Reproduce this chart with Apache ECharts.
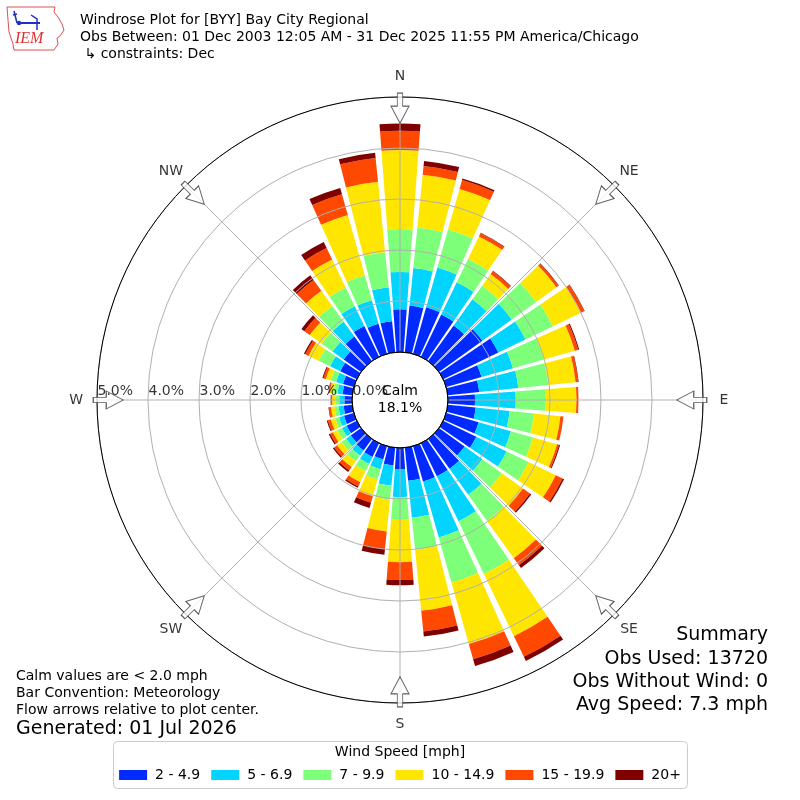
<!DOCTYPE html>
<html>
<head>
<meta charset="utf-8">
<script src="https://cdn.jsdelivr.net/npm/echarts@6.0.0/dist/echarts.min.js"></script>
<style>
html,body{margin:0;padding:0;background:#fff;}
#c{width:800px;height:800px;}
</style>
</head>
<body>
<div id="c"></div>
<script>
// ---- data ----
const directions = ['0','10','20','30','40','50','60','70','80','90','100','110','120','130','140','150','160','170',
                    '180','190','200','210','220','230','240','250','260','270','280','290','300','310','320','330','340','350'];
const speedBins = ['2 - 4.9','5 - 6.9','7 - 9.9','10 - 14.9','15 - 19.9','20+'];
// percent of observations per direction and speed bin
const s2_4_9   = [0.84,0.92,0.95,0.92,0.86,1.05,1.20,0.72,0.62,0.53,0.55,0.66,0.72,0.62,0.72,0.72,0.72,0.65,0.42,0.35,0.27,0.30,0.28,0.25,0.22,0.20,0.17,0.15,0.19,0.22,0.36,0.42,0.59,0.67,0.61,0.61];
const s5_6_9   = [0.73,0.74,0.81,0.70,0.63,0.71,0.59,0.64,0.77,0.80,0.67,0.66,0.66,0.43,0.63,0.98,1.14,0.73,0.54,0.40,0.20,0.15,0.12,0.11,0.10,0.10,0.10,0.10,0.10,0.14,0.22,0.27,0.36,0.43,0.48,0.67];
const s7_9_9   = [0.84,0.80,0.77,0.51,0.33,0.59,0.60,0.63,0.59,0.59,0.48,0.45,0.48,0.47,0.63,1.15,0.92,0.63,0.45,0.27,0.21,0.16,0.14,0.11,0.10,0.08,0.08,0.08,0.08,0.11,0.25,0.26,0.38,0.41,0.51,0.69];
const s10_14_9 = [1.55,1.04,0.83,0.49,0.28,0.49,0.61,0.63,0.54,0.60,0.52,0.49,0.59,0.51,0.90,1.35,1.25,1.20,0.83,0.63,0.34,0.24,0.14,0.11,0.10,0.09,0.07,0.06,0.07,0.10,0.22,0.29,0.37,0.61,1.23,1.39];
const s15_19_9 = [0.38,0.17,0.18,0.07,0.07,0.05,0.07,0.07,0.05,0.04,0.06,0.04,0.15,0.17,0.17,0.45,0.31,0.41,0.35,0.34,0.13,0.09,0.08,0.07,0.06,0.06,0.04,0.02,0.02,0.05,0.07,0.13,0.26,0.25,0.42,0.47];
const s20plus  = [0.14,0.10,0.03,0.01,0.01,0.01,0.01,0.02,0.01,0.00,0.00,0.02,0.03,0.03,0.07,0.09,0.14,0.10,0.10,0.12,0.11,0.03,0.04,0.03,0.03,0.02,0.01,0.01,0.01,0.02,0.03,0.07,0.11,0.13,0.13,0.10];
const ringTicks = [0,1,2,3,4,5];
const compassAngles = [0,45,90,135,180,225,270,315];
const compassNames = ['N','NE','E','SE','S','SW','W','NW'];
const calmPct = 18.1;
const summaryLines = ['Summary','Obs Used: 13720','Obs Without Wind: 0','Avg Speed: 7.3 mph'];
const noteLines = ['Calm values are < 2.0 mph','Bar Convention: Meteorology','Flow arrows relative to plot center.'];

// ---- styles ----
const binData = [s2_4_9, s5_6_9, s7_9_9, s10_14_9, s15_19_9, s20plus];
const binColors = ['#002aff','#00d4ff','#7dff7a','#ffe600','#ff4800','#800000'];
const FONT = '"DejaVu Sans", sans-serif';
const SMALL = 14;
const BIG = 19;
const ARROW_R = 4.78;   // radial position of flow arrows (axis units)
const LABEL_R = 5.41;   // radial position of compass labels
const center = ['50%','50%'];

const chart = echarts.init(document.getElementById('c'), null, {renderer:'canvas', width:800, height:800});

function txt(x, y, text, size, align, extra) {
  return Object.assign({
    type:'text', x:x, y:y, silent:true,
    style:{text:text, font: size + 'px ' + FONT, fill:'#000',
           textAlign:align||'left', align:align||'left',
           textVerticalAlign:'middle', verticalAlign:'middle'}
  }, extra||{});
}

const graphics = [
  // IEM logo
  {type:'polygon', silent:true, shape:{points:[[7,7],[55,7],[54,12],[58,17],[62,24],[64,30],[60,36],[57,38],[58,44],[54,50],[14,50],[13,44],[9,32],[8,20]]},
   style:{fill:'none', stroke:'#e05050', lineWidth:1}},
  {type:'polyline', silent:true, shape:{points:[[18,23],[40,23]]}, style:{stroke:'#2030c0', lineWidth:2}},
  {type:'polyline', silent:true, shape:{points:[[14,11],[17,23]]}, style:{stroke:'#2030c0', lineWidth:1.5}},
  {type:'polyline', silent:true, shape:{points:[[13,15],[17,14]]}, style:{stroke:'#2030c0', lineWidth:1.5}},
  {type:'polyline', silent:true, shape:{points:[[31,15],[37,19],[37,30]]}, style:{stroke:'#2030c0', lineWidth:1.5}},
  {type:'circle', silent:true, shape:{cx:19, cy:23, r:2.2}, style:{fill:'#2030c0'}},
  {type:'text', x:15, y:39, silent:true, style:{text:'IEM', font:'italic 16px "Liberation Serif", serif', fill:'#e03030', textAlign:'left', align:'left', textVerticalAlign:'middle', verticalAlign:'middle'}},
  // titles
  txt(80, 20, 'Windrose Plot for [BYY] Bay City Regional', SMALL),
  txt(80, 37, 'Obs Between: 01 Dec 2003 12:05 AM - 31 Dec 2025 11:55 PM America/Chicago', SMALL),
  txt(80, 54, ' \u21b3 constraints: Dec', SMALL),
  // calm
  txt(400, 391, 'Calm', SMALL, 'center'),
  txt(400, 408, calmPct.toFixed(1) + '%', SMALL, 'center'),
  // notes
  txt(16, 676, noteLines[0], SMALL),
  txt(16, 693, noteLines[1], SMALL),
  txt(16, 710, noteLines[2], SMALL),
  txt(16, 729, 'Generated: 01 Jul 2026', BIG),
  // summary
  txt(768, 635, summaryLines[0], BIG, 'right'),
  txt(768, 659, summaryLines[1], BIG, 'right'),
  txt(768, 682, summaryLines[2], BIG, 'right'),
  txt(768, 705, summaryLines[3], BIG, 'right'),
  // legend frame
  {type:'rect', silent:true, z:0, shape:{x:113.5, y:741.5, width:574, height:47, r:4},
   style:{fill:'#fff', stroke:'#cccccc', lineWidth:1}},
  txt(400, 752, 'Wind Speed [mph]', SMALL, 'center', {z:1})
];

const barSeries = speedBins.map((name, i) => ({
  type:'bar', name:name, coordinateSystem:'polar', polarIndex:0, stack:'wind',
  barCategoryGap:'15%', data:binData[i], silent:true,
  itemStyle:{color:binColors[i]}
}));

const option = {
  animation:false,
  backgroundColor:'#fff',
  polar:[
    {center:center, radius:[48,303]},
    {center:center, radius:[48,303]},
    {center:center, radius:[0,48]}
  ],
  angleAxis:[
    {polarIndex:0, type:'category', data:directions, startAngle:95, clockwise:true, show:false},
    {polarIndex:1, type:'value', min:0, max:360, interval:45, startAngle:90, clockwise:true, z:4,
     axisLine:{show:true, lineStyle:{color:'#000', width:1}}, axisTick:{show:false}, axisLabel:{show:false},
     splitLine:{show:true, lineStyle:{color:'#b0b0b0', width:1}}},
    {polarIndex:2, type:'value', min:0, max:360, startAngle:90, clockwise:true, z:4,
     axisLine:{show:true, lineStyle:{color:'#000', width:1}}, axisTick:{show:false}, axisLabel:{show:false},
     splitLine:{show:false}}
  ],
  radiusAxis:[
    {polarIndex:0, type:'value', min:0, max:5, show:false},
    {polarIndex:1, type:'value', min:0, max:5, interval:1, z:3,
     axisLine:{show:false}, axisTick:{show:false}, axisLabel:{show:false},
     splitLine:{show:true, lineStyle:{color:'#b0b0b0', width:1}}},
    {polarIndex:2, type:'value', min:0, max:1, show:false}
  ],
  legend:{
    data:speedBins, left:'center', top:763, icon:'rect', itemWidth:28, itemHeight:10, itemGap:11,
    textStyle:{fontFamily:FONT, fontSize:SMALL, color:'#000', padding:[0,0,0,3]}, selectedMode:false, z:5
  },
  graphic:graphics,
  series: barSeries.concat([
    {type:'scatter', name:'ringLabels', coordinateSystem:'polar', polarIndex:1, clip:false, silent:true, z:6,
     data:ringTicks.map(v => [v, 270]), symbolSize:1, itemStyle:{color:'rgba(0,0,0,0)'},
     label:{show:true, position:[1,-1], align:'left', verticalAlign:'bottom',
            formatter:p => p.value[0].toFixed(1) + '%', fontFamily:FONT, fontSize:SMALL, color:'#000'}},
    {type:'scatter', name:'arrows', coordinateSystem:'polar', polarIndex:1, clip:false, silent:true, z:5,
     symbol:'path://M6.3,0 L11.7,0 L11.7,13 L18,13 L9,30 L0,13 L6.3,13 Z', symbolSize:[18,30],
     itemStyle:{color:'#fff', borderColor:'#333', borderWidth:1},
     data:compassAngles.map(a => ({value:[ARROW_R, a], symbolRotate:-a}))},
    {type:'scatter', name:'compass', coordinateSystem:'polar', polarIndex:1, clip:false, silent:true, z:6,
     data:compassAngles.map(a => [LABEL_R, a]), symbolSize:1, itemStyle:{color:'rgba(0,0,0,0)'},
     label:{show:true, position:'inside', align:'center', verticalAlign:'middle',
            formatter:p => compassNames[p.dataIndex], fontFamily:FONT, fontSize:SMALL, color:'#000'}}
  ])
};
chart.setOption(option);
</script>
</body>
</html>
